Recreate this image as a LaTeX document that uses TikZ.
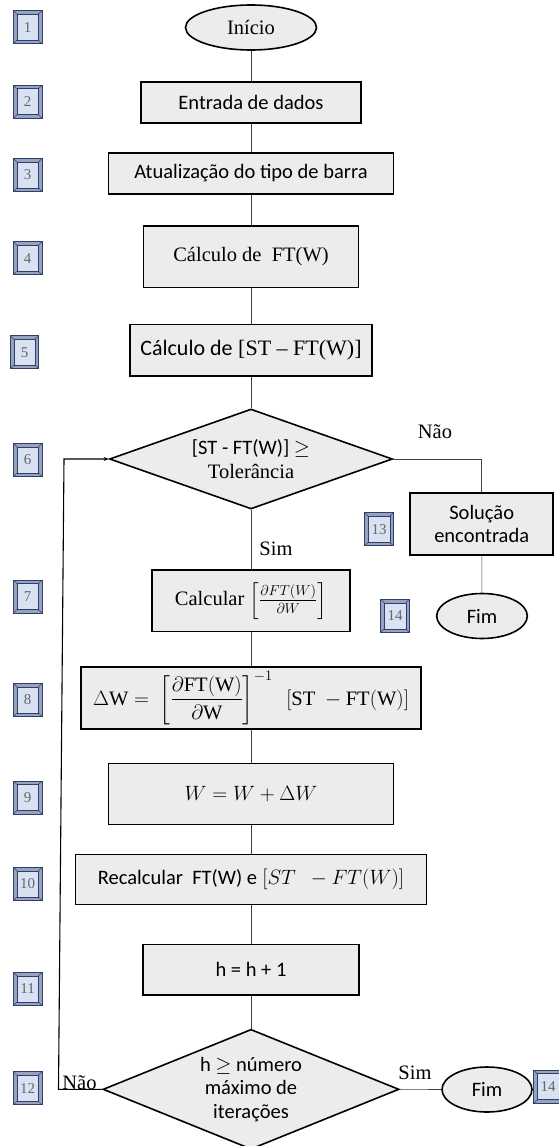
\documentclass[tikz,border=0pt]{standalone}
\usepackage{amsmath,amssymb}
\usepackage{fontspec}
\setmainfont{Liberation Serif}
\newfontfamily\calibri{Carlito}
\usepackage{tikz}
\usetikzlibrary{shapes.geometric,arrows.meta}
\definecolor{boxgray}{RGB}{236,236,236}
\definecolor{numblue}{RGB}{217,226,243}
\definecolor{numedge}{RGB}{47,62,107}
\definecolor{numbevel}{RGB}{150,162,190}

\begin{document}
\begin{tikzpicture}[x=1pt, y=-1pt, font=\fontsize{20.5}{23.5}\selectfont,
    proc/.style={draw, line width=1.6pt, fill=boxgray, inner sep=0pt, align=center},
    term/.style={ellipse, draw, line width=1.6pt, fill=boxgray, inner sep=0pt},
    cond/.style={diamond, draw, line width=1.6pt, fill=boxgray, inner sep=0pt, align=center},
    conn/.style={black!75, line width=0.6pt},
    loopline/.style={line width=1.1pt, -{Stealth[length=5pt,width=4pt]}},
    lbl/.style={anchor=base, inner sep=0pt},
    numbox/.style={draw=numedge, line width=0.9pt, fill=numbevel, minimum width=28.5pt, minimum height=33pt,
        inner sep=0pt, text=black!60, font=\fontsize{15}{15}\selectfont,
        path picture={
            \fill[numblue, draw=numedge, line width=0.5pt] ([shift={(3.5pt,3.5pt)}]path picture bounding box.south west) rectangle ([shift={(-3.5pt,-3.5pt)}]path picture bounding box.north east);
            \draw[numedge, line width=0.5pt] (path picture bounding box.south west) -- ++(3.5pt,3.5pt)
                (path picture bounding box.north east) -- ++(-3.5pt,-3.5pt)
                (path picture bounding box.north west) -- ++(3.5pt,-3.5pt)
                (path picture bounding box.south east) -- ++(-3.5pt,3.5pt);}}]
    \useasboundingbox (0,0) rectangle (558,1146);

    % step numbers on the side
    \foreach \nm/\t/\x/\y in {n1/1/27.7/27.2, n2/2/27.7/101.7, n3/3/27.7/175, n4/4/27.7/258.2, n5/5/24.5/352.3,
        n6/6/27.7/460, n7/7/27.7/596.5, n8/8/27.7/700, n9/9/27.7/797.5, n10/10/27.7/884, n11/11/27.7/989,
        n12/12/27.7/1088.3, n13/13/379/529.3, n14a/14/395/615.8, n14b/14/548/1086.7}
        {\node[numbox] (\nm) at (\x,\y) {\t};}

    % main column
    \node[term, minimum width=131pt, minimum height=45pt] (ini) at (251,27.5) {Início};
    \node[proc, minimum width=220pt, minimum height=41pt] (entr) at (251,102.5) {\calibri Entrada de dados};
    \node[proc, minimum width=285pt, minimum height=41pt] (atual) at (251,173.5) {\calibri Atualização do tipo de barra};
    \node[proc, minimum width=215pt, minimum height=61.6pt] (calcft) at (251,256.5) {Cálculo de\ \ FT(W)};
    \node[proc, minimum width=242pt, minimum height=51.4pt, font=\fontsize{22}{25}\selectfont] (calcdif) at (251,350) {{\calibri Cálculo de} [ST – FT(W)]};
    \node[cond, minimum width=283pt, minimum height=100pt, aspect=2.83] (tol) at (251,459) {{\calibri [ST - FT(W)] $\geq$}\\Tolerância};
    \node[proc, minimum width=198pt, minimum height=61.7pt] (calcder) at (251,600.8) {Calcular $\left[\frac{\partial FT(W)}{\partial W}\right]$};
    \node[proc, minimum width=340pt, minimum height=61.7pt] (dw) at (251,698)
        {$\Delta\mathrm{W} = \ \left[\dfrac{\partial\mathrm{FT(W)}}{\partial\mathrm{W}}\right]^{-1}\ \ [\mathrm{ST}\ -\mathrm{FT(W)}]$};
    \node[proc, minimum width=285pt, minimum height=61pt] (wupd) at (251,794) {$W = W + \Delta W$};
    \node[proc, minimum width=351pt, minimum height=50pt] (recalc) at (251,879.3) {{\calibri Recalcular\ \ FT(W) e} $[ST\ \ - FT(W)]$};
    \node[proc, minimum width=216pt, minimum height=50.7pt] (hinc) at (251,969.7) {\calibri h = h + 1};
    \node[cond, minimum width=296pt, minimum height=120pt, aspect=2.47, font=\calibri\fontsize{20.5}{23.5}\selectfont] (hmax) at (251,1089.3)
        {h $\geq$ número\\máximo de\\iterações};

    % exits
    \node[proc, minimum width=143pt, minimum height=61.7pt, font=\calibri\fontsize{20.5}{23.5}\selectfont] (sol) at (481.7,524) {Solução\\encontrada};
    \node[term, minimum width=90.7pt, minimum height=45pt] (fim1) at (482,616) {\calibri Fim};
    \node[term, minimum width=90pt, minimum height=45pt] (fim2) at (487,1089.5) {\calibri Fim};

    \node[lbl] (nao1) at (435,438) {Não};
    \node[lbl] (sim1) at (276,555) {Sim};
    \node[lbl] (nao2) at (79.5,1089) {Não};
    \node[lbl] (sim2) at (415,1079) {Sim};

    \foreach \a/\b in {ini/entr, entr/atual, atual/calcft, calcft/calcdif, calcdif/tol, tol/calcder,
        calcder/dw, dw/wupd, wupd/recalc, recalc/hinc, hinc/hmax}
        {\draw[conn] (\a) -- (\b);}
    \draw[conn] (tol.east) -| (sol.north);
    \draw[conn] (sol) -- (fim1);
    \draw[conn] (hmax.east) -- (fim2.west);

    \coordinate (lpb) at (58.5,1089.3);
    \coordinate (lpt) at (64,459);
    \draw[loopline] (hmax.west) -- (lpb) -- (lpt) -- (tol.west);
\end{tikzpicture}
\end{document}
